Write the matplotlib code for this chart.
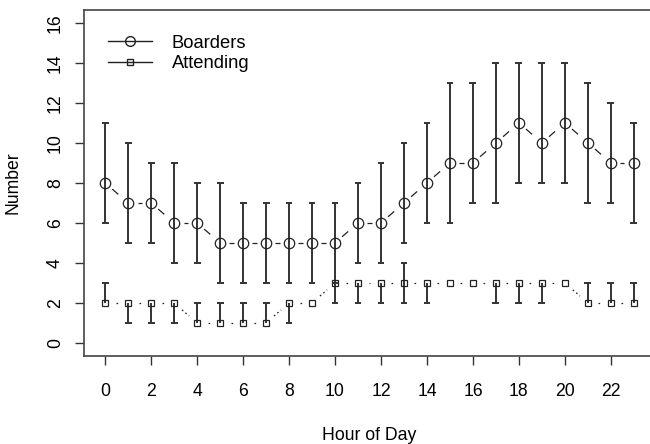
import matplotlib
matplotlib.use('Agg')
import matplotlib.pyplot as plt
from matplotlib.lines import Line2D
import numpy as np

plt.rcParams['font.family'] = ['Liberation Sans', 'DejaVu Sans']
plt.rcParams['lines.scale_dashes'] = False

hours = list(range(24))

boarders = [8, 7, 7, 6, 6, 5, 5, 5, 5, 5, 5, 6, 6, 7, 8, 9, 9, 10, 11, 10, 11, 10, 9, 9]
boarders_lo = [6, 5, 5, 4, 4, 3, 3, 3, 3, 3, 3, 4, 4, 5, 6, 6, 7, 7, 8, 8, 8, 7, 7, 6]
boarders_hi = [11, 10, 9, 9, 8, 8, 7, 7, 7, 7, 7, 8, 9, 10, 11, 13, 13, 14, 14, 14, 14, 13, 12, 11]

attending = [2, 2, 2, 2, 1, 1, 1, 1, 2, 2, 3, 3, 3, 3, 3, 3, 3, 3, 3, 3, 3, 2, 2, 2]
attending_lo = [2, 1, 1, 1, 1, 1, 1, 1, 1, 2, 2, 2, 2, 2, 2, 3, 3, 2, 2, 2, 3, 2, 2, 2]
attending_hi = [3, 2, 2, 2, 2, 2, 2, 2, 2, 2, 3, 3, 3, 4, 3, 3, 3, 3, 3, 3, 3, 3, 3, 3]

xticks = list(range(0, 24, 2))
yticks = list(range(0, 17, 2))

ink = '#222222'
bar_col = '#333333'

fig = plt.figure(figsize=(6.5, 4.44), dpi=100)
ax = fig.add_axes([84 / 650, 88.2 / 444, 571 / 650, 345.8 / 444])
ax.set_xlim(-0.92, 23.92)
ax.set_ylim(-0.64, 16.64)


def gapped_line(x, y, gap, **kw):
    # R type="b": segments stop short of each point
    pts = ax.transData.transform(np.column_stack([x, y]))
    inv = ax.transData.inverted()
    for p0, p1 in zip(pts[:-1], pts[1:]):
        d = p1 - p0
        n = np.hypot(*d)
        if n <= 2 * gap:
            continue
        u = d / n
        a = inv.transform(p0 + u * gap)
        b = inv.transform(p1 - u * gap)
        ax.plot([a[0], b[0]], [a[1], b[1]], color=ink, lw=0.9, **kw)


def bars(x, y, lo, hi, cap=0.15):
    for xi, yi, l, h in zip(x, y, lo, hi):
        if l == h:
            continue
        ax.vlines(xi, l, h, color=bar_col, lw=1.4)
        if l != yi:
            ax.hlines(l, xi - cap, xi + cap, color=bar_col, lw=1.4)
        if h != yi:
            ax.hlines(h, xi - cap, xi + cap, color=bar_col, lw=1.4)


gapped_line(hours, boarders, 9.4, dashes=(5.8, 2.9))
gapped_line(hours, attending, 10.5, dashes=(1.2, 2.0))
bars(hours, boarders, boarders_lo, boarders_hi)
bars(hours, attending, attending_lo, attending_hi)
ax.plot(hours, boarders, 'o', ms=7.5, mfc='none', mec=ink, mew=0.9)
ax.plot(hours, attending, 's', ms=5, mfc='none', mec=ink, mew=0.9)

ax.set_xticks(xticks)
ax.set_yticks(yticks)
ax.set_yticklabels([str(v) for v in yticks], rotation=90, va='center')
ax.tick_params(direction='out', length=6.5, width=1, color='#333333',
               labelsize=12.7, pad=8)
ax.tick_params(axis='x', pad=13)
for s in ax.spines.values():
    s.set_color('#444444')
    s.set_linewidth(1.2)
ax.spines['right'].set_visible(False)

ax.set_xlabel('Hour of Day', fontsize=12.7)
ax.set_ylabel('Number', fontsize=12.7)
ax.xaxis.set_label_coords(0.5, -0.205)
ax.yaxis.set_label_coords(-0.11, 0.5)

handles = [
    Line2D([], [], color=ink, lw=1, marker='o', ms=7, mfc='none', mec=ink),
    Line2D([], [], color=ink, lw=1, marker='s', ms=5, mfc='none', mec=ink),
]
ax.legend(handles, ['Boarders', 'Attending'], loc='upper left',
          bbox_to_anchor=(0.03, 0.95), frameon=False, fontsize=13.2,
          handlelength=2.35, handletextpad=1.1, labelspacing=0.2,
          borderaxespad=0)

fig.savefig('out.png', dpi=100)
